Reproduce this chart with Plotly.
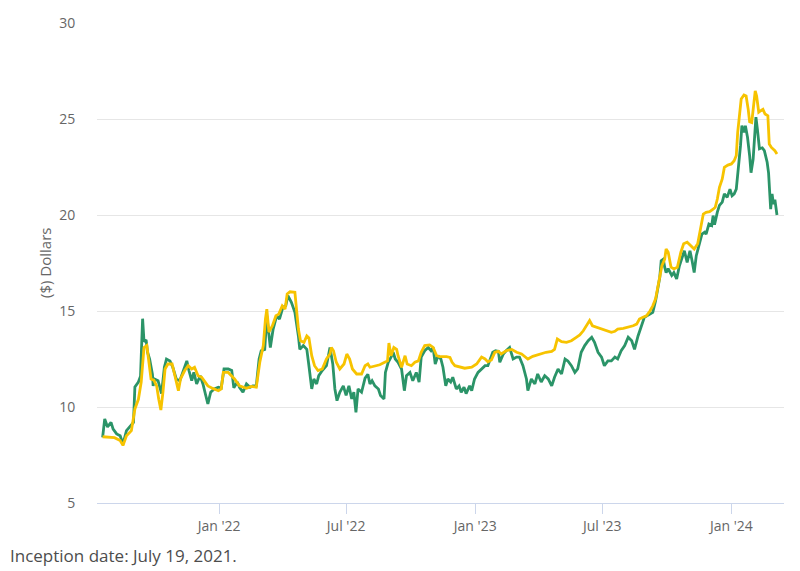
import plotly.graph_objects as go

green_dates = [
    "2021-07-19","2021-07-22","2021-07-26","2021-07-31","2021-08-03","2021-08-08","2021-08-13","2021-08-17",
    "2021-08-22","2021-08-27","2021-09-01","2021-09-03","2021-09-08","2021-09-11","2021-09-14","2021-09-16",
    "2021-09-19","2021-09-21","2021-09-24","2021-09-28","2021-09-29","2021-10-01","2021-10-06","2021-10-11",
    "2021-10-15","2021-10-18","2021-10-23","2021-10-27","2021-11-01","2021-11-06","2021-11-11","2021-11-16",
    "2021-11-19","2021-11-23","2021-11-26","2021-11-30","2021-12-05","2021-12-09","2021-12-13","2021-12-16",
    "2021-12-20","2021-12-25","2021-12-31","2022-01-04","2022-01-08","2022-01-14","2022-01-19","2022-01-22",
    "2022-01-27","2022-01-30","2022-02-04","2022-02-09","2022-02-14","2022-02-18","2022-02-23","2022-02-27",
    "2022-03-02","2022-03-07","2022-03-10","2022-03-12","2022-03-15","2022-03-19","2022-03-24","2022-03-28",
    "2022-04-02","2022-04-06","2022-04-09","2022-04-14","2022-04-19","2022-04-24","2022-04-26","2022-05-01",
    "2022-05-06","2022-05-09","2022-05-13","2022-05-16","2022-05-20","2022-05-23","2022-05-28","2022-06-03",
    "2022-06-08","2022-06-12","2022-06-15","2022-06-18","2022-06-22","2022-06-27","2022-07-01","2022-07-05",
    "2022-07-09","2022-07-12","2022-07-15","2022-07-18","2022-07-23","2022-07-28","2022-08-01","2022-08-04",
    "2022-08-07","2022-08-11","2022-08-16","2022-08-19","2022-08-24","2022-08-26","2022-08-30","2022-09-03",
    "2022-09-06","2022-09-09","2022-09-13","2022-09-18","2022-09-22","2022-09-25","2022-09-30","2022-10-04",
    "2022-10-09","2022-10-13","2022-10-16","2022-10-21","2022-10-26","2022-10-30","2022-11-02","2022-11-05",
    "2022-11-09","2022-11-13","2022-11-16","2022-11-20","2022-11-23","2022-11-27","2022-11-30","2022-12-05",
    "2022-12-09","2022-12-12","2022-12-16","2022-12-19","2022-12-24","2022-12-27","2022-12-31","2023-01-05",
    "2023-01-10","2023-01-15","2023-01-19","2023-01-23","2023-01-26","2023-01-30","2023-02-03","2023-02-05",
    "2023-02-10","2023-02-14","2023-02-19","2023-02-24","2023-03-01","2023-03-05","2023-03-10","2023-03-15",
    "2023-03-17","2023-03-22","2023-03-27","2023-03-31","2023-04-05","2023-04-10","2023-04-15","2023-04-20",
    "2023-04-24","2023-04-29","2023-05-04","2023-05-09","2023-05-13","2023-05-18","2023-05-23","2023-05-27",
    "2023-06-01","2023-06-06","2023-06-11","2023-06-16","2023-06-20","2023-06-25","2023-06-30","2023-07-04",
    "2023-07-09","2023-07-14","2023-07-19","2023-07-23","2023-07-28","2023-08-02","2023-08-07","2023-08-12",
    "2023-08-16","2023-08-21","2023-08-26","2023-08-30","2023-09-07","2023-09-11","2023-09-15","2023-09-21",
    "2023-09-23","2023-09-26","2023-09-28","2023-09-30","2023-10-03","2023-10-08","2023-10-11","2023-10-15",
    "2023-10-19","2023-10-23","2023-10-26","2023-10-30","2023-11-03","2023-11-06","2023-11-09","2023-11-12",
    "2023-11-15","2023-11-20","2023-11-24","2023-11-26","2023-11-30","2023-12-04","2023-12-06","2023-12-08",
    "2023-12-12","2023-12-15","2023-12-19","2023-12-22","2023-12-26","2023-12-30","2024-01-02","2024-01-05",
    "2024-01-08","2024-01-11","2024-01-14","2024-01-16","2024-01-19","2024-01-21","2024-01-24","2024-01-27",
    "2024-01-29","2024-02-01","2024-02-03","2024-02-05","2024-02-07","2024-02-10","2024-02-14","2024-02-17",
    "2024-02-21","2024-02-23","2024-02-26","2024-02-28","2024-03-01","2024-03-03","2024-03-06",
]
green_values = [
    8.42, 9.38, 8.96, 9.2, 8.85, 8.6, 8.5, 8.07,
    8.77, 8.96, 9.2, 11.04, 11.3, 11.6, 14.6, 13.4,
    13.5, 12.85, 12.5, 11.7, 11.1, 11.46, 11.37, 10.7,
    12.07, 12.5, 12.4, 12.07, 11.46, 11.37, 11.9, 12.4,
    11.9, 11.37, 11.8, 11.2, 11.63, 11.2, 10.6, 10.16,
    10.77, 10.94, 11.03, 10.99, 11.98, 11.98, 11.9, 11.0,
    11.3, 11.03, 10.77, 11.2, 11.03, 11.1, 11.1, 12.5,
    12.93, 13.0, 14.75, 14.06, 13.1, 14.06, 14.75, 14.58,
    15.2, 15.27, 15.8, 15.45, 14.93, 13.7, 13.0, 13.2,
    13.0, 12.15, 10.94, 11.46, 11.2, 11.63, 11.9, 12.15,
    13.1, 12.24, 10.94, 10.33, 10.77, 11.1, 10.6, 11.1,
    10.42, 10.77, 9.72, 10.94, 10.77, 11.5, 11.7, 11.2,
    11.37, 11.1, 10.94, 10.6, 10.42, 11.8, 12.33, 12.6,
    12.85, 12.5, 12.33, 11.98, 10.85, 11.63, 11.8, 11.37,
    11.8, 11.3, 12.6, 12.93, 13.1, 12.93, 13.1, 12.24,
    12.67, 12.5, 12.07, 11.1, 11.46, 11.3, 11.55, 10.94,
    11.1, 10.77, 11.03, 10.7, 11.1, 10.85, 11.46, 11.8,
    11.98, 12.15, 12.15, 12.5, 12.85, 12.93, 12.9, 12.33,
    12.76, 12.93, 13.1, 12.5, 12.6, 12.6, 12.15, 11.46,
    10.85, 11.46, 11.2, 11.72, 11.3, 11.63, 11.46, 11.1,
    11.55, 11.98, 11.72, 12.5, 12.4, 12.15, 11.8, 11.98,
    12.85, 13.2, 13.45, 13.63, 13.37, 12.85, 12.6, 12.15,
    12.4, 12.4, 12.6, 12.5, 12.93, 13.2, 13.63, 13.45,
    13.0, 13.7, 14.23, 14.67, 14.84, 14.93, 15.54, 16.76,
    17.62, 17.7, 17.28, 17.0, 17.2, 16.85, 17.0, 16.67,
    17.36, 17.88, 18.14, 17.53, 18.14, 17.62, 17.0, 17.88,
    18.32, 19.0, 19.1, 19.0, 19.53, 19.45, 19.97, 19.5,
    20.15, 20.5, 20.67, 21.1, 20.92, 21.35, 21.0, 21.1,
    21.35, 22.4, 23.6, 24.65, 24.3, 24.65, 24.05, 23.1,
    22.2, 22.9, 24.3, 25.1, 24.5, 23.45, 23.5, 23.35,
    22.75, 22.2, 20.3, 21.1, 20.57, 20.8, 20.0,
]

yellow_dates = [
    "2021-07-19","2021-08-05","2021-08-13","2021-08-17","2021-08-22","2021-08-29","2021-09-03","2021-09-08",
    "2021-09-12","2021-09-16","2021-09-20","2021-09-22","2021-09-26","2021-09-30","2021-10-04","2021-10-07",
    "2021-10-10","2021-10-13","2021-10-16","2021-10-20","2021-10-26","2021-10-30","2021-11-04","2021-11-07",
    "2021-11-13","2021-11-18","2021-11-23","2021-11-27","2021-12-02","2021-12-07","2021-12-16","2021-12-23",
    "2021-12-31","2022-01-04","2022-01-07","2022-01-14","2022-01-19","2022-01-23","2022-01-30","2022-02-09",
    "2022-02-16","2022-02-23","2022-02-28","2022-03-05","2022-03-08","2022-03-10","2022-03-13","2022-03-18",
    "2022-03-23","2022-03-27","2022-04-01","2022-04-05","2022-04-08","2022-04-12","2022-04-19","2022-04-21",
    "2022-04-24","2022-04-27","2022-05-02","2022-05-06","2022-05-09","2022-05-13","2022-05-17","2022-05-22",
    "2022-05-28","2022-06-03","2022-06-08","2022-06-10","2022-06-13","2022-06-17","2022-06-22","2022-06-28",
    "2022-07-02","2022-07-06","2022-07-10","2022-07-16","2022-07-23","2022-07-28","2022-08-01","2022-08-04",
    "2022-08-11","2022-08-18","2022-08-25","2022-08-29","2022-08-31","2022-09-03","2022-09-07","2022-09-11",
    "2022-09-13","2022-09-18","2022-09-23","2022-09-26","2022-10-02","2022-10-07","2022-10-12","2022-10-16",
    "2022-10-21","2022-10-28","2022-11-02","2022-11-07","2022-11-11","2022-11-21","2022-11-26","2022-11-29",
    "2022-12-03","2022-12-10","2022-12-17","2022-12-27","2023-01-03","2023-01-10","2023-01-15","2023-01-19",
    "2023-01-24","2023-01-29","2023-02-03","2023-02-07","2023-02-14","2023-02-22","2023-03-01","2023-03-08",
    "2023-03-13","2023-03-17","2023-03-24","2023-04-03","2023-04-12","2023-04-20","2023-04-24","2023-04-28",
    "2023-05-04","2023-05-11","2023-05-18","2023-05-25","2023-05-30","2023-06-04","2023-06-08","2023-06-13",
    "2023-06-17","2023-06-23","2023-06-30","2023-07-07","2023-07-14","2023-07-19","2023-07-23","2023-07-31",
    "2023-08-07","2023-08-14","2023-08-19","2023-08-23","2023-08-28","2023-09-02","2023-09-07","2023-09-11",
    "2023-09-15","2023-09-21","2023-09-24","2023-09-28","2023-09-30","2023-10-03","2023-10-07","2023-10-11",
    "2023-10-16","2023-10-21","2023-10-25","2023-10-30","2023-11-04","2023-11-09","2023-11-14","2023-11-17",
    "2023-11-22","2023-11-26","2023-12-01","2023-12-06","2023-12-09","2023-12-12","2023-12-15","2023-12-19",
    "2023-12-22","2023-12-27","2024-01-01","2024-01-05","2024-01-08","2024-01-10","2024-01-13","2024-01-15",
    "2024-01-19","2024-01-22","2024-01-25","2024-01-27","2024-01-30","2024-02-02","2024-02-04","2024-02-06",
    "2024-02-09","2024-02-12","2024-02-15","2024-02-18","2024-02-22","2024-02-24","2024-02-27","2024-03-03",
    "2024-03-06",
]
yellow_values = [
    8.45, 8.4, 8.25, 8.0, 8.5, 8.77, 9.9, 10.4,
    11.3, 13.1, 13.2, 12.5, 11.46, 11.4, 11.1, 10.4,
    9.84, 10.77, 11.98, 12.24, 12.24, 11.63, 10.85, 11.46,
    11.9, 12.15, 11.98, 12.07, 11.63, 11.55, 11.1, 10.97,
    10.85, 10.94, 11.8, 11.8, 11.63, 11.46, 11.1, 10.97,
    11.07, 11.03, 12.33, 13.2, 14.58, 15.1, 13.9, 14.23,
    14.75, 14.84, 15.27, 15.1, 15.89, 16.0, 15.97, 15.27,
    14.06, 13.45, 13.37, 13.7, 13.6, 12.67, 12.15, 11.9,
    11.98, 12.5, 12.76, 13.1, 12.93, 12.33, 11.98, 12.24,
    12.76, 12.5, 11.98, 11.72, 11.72, 12.15, 12.24, 12.07,
    12.15, 12.2, 12.33, 12.4, 13.33, 12.67, 13.1, 13.0,
    12.67, 12.07, 12.67, 12.24, 12.15, 12.33, 12.4, 12.85,
    13.2, 13.23, 13.1, 12.67, 12.62, 12.62, 12.58, 12.33,
    12.15, 12.07, 12.02, 12.07, 12.24, 12.6, 12.5, 12.35,
    12.45, 12.85, 12.9, 12.76, 12.93, 13.0, 12.85, 12.76,
    12.6, 12.5, 12.64, 12.76, 12.85, 12.9, 13.0, 13.54,
    13.4, 13.37, 13.45, 13.63, 13.75, 13.97, 14.23, 14.5,
    14.23, 14.15, 14.06, 13.97, 13.89, 13.94, 14.06, 14.1,
    14.15, 14.23, 14.32, 14.58, 14.67, 14.75, 15.0, 15.27,
    15.63, 16.85, 17.36, 17.7, 18.23, 18.06, 17.28, 17.19,
    17.28, 18.06, 18.5, 18.58, 18.4, 18.23, 18.5, 19.1,
    20.05, 20.14, 20.17, 20.3, 20.4, 20.83, 21.44, 21.88,
    22.48, 22.6, 22.66, 22.83, 23.1, 24.3, 25.35, 26.04,
    26.25, 26.2, 25.5, 24.86, 24.82, 25.7, 26.47, 26.2,
    25.35, 25.43, 25.5, 25.26, 25.17, 23.7, 23.52, 23.35,
    23.18,
]

x_tick_vals = ["2022-01-01", "2022-07-01", "2023-01-01", "2023-07-01", "2024-01-01"]
x_tick_text = ["Jan '22", "Jul '22", "Jan '23", "Jul '23", "Jan '24"]
y_tick_vals = [5, 10, 15, 20, 25, 30]

GREEN = "#2b9468"
YELLOW = "#f7c300"
FONT = "Open Sans, sans-serif"

fig = go.Figure()
fig.add_trace(go.Scatter(x=green_dates, y=green_values, mode="lines",
                         line=dict(color=GREEN, width=2.8), name="NAV", hoverinfo="skip"))
fig.add_trace(go.Scatter(x=yellow_dates, y=yellow_values, mode="lines",
                         line=dict(color=YELLOW, width=2.8), name="Market", hoverinfo="skip"))

fig.update_layout(
    width=800, height=571,
    margin=dict(l=97, r=16, t=23, b=68),
    paper_bgcolor="white", plot_bgcolor="white",
    showlegend=False,
    font=dict(family=FONT, color="#666666", size=14),
    xaxis=dict(
        type="date",
        range=["2021-07-11", "2024-03-16"],
        tickvals=x_tick_vals, ticktext=x_tick_text,
        showgrid=False, zeroline=False,
        showline=True, linecolor="#ccd6eb", linewidth=1,
        ticks="outside", ticklen=10, tickcolor="#ccd6eb", tickwidth=1,
        tickfont=dict(family=FONT, size=14, color="#666666"),
    ),
    yaxis=dict(
        range=[5, 30],
        tickvals=y_tick_vals,
        showgrid=True, gridcolor="#e6e6e6", gridwidth=1,
        zeroline=False, showline=False,
        ticks="outside", ticklen=18, tickcolor="rgba(0,0,0,0)",
        tickfont=dict(family=FONT, size=14, color="#666666"),
    ),
    annotations=[
        dict(text="($) Dollars", xref="paper", yref="paper",
             x=(45 - 97) / 687, y=0.5, xanchor="center", yanchor="middle",
             textangle=-90, showarrow=False,
             font=dict(family=FONT, size=15, color="#666666")),
        dict(text="Inception date: July 19, 2021.", xref="paper", yref="paper",
             x=(8 - 97) / 687, y=(503 - 555) / 480, xanchor="left", yanchor="middle",
             showarrow=False, font=dict(family=FONT, size=17, color="#4d4d4d")),
    ],
)

fig.write_html("out.html")
